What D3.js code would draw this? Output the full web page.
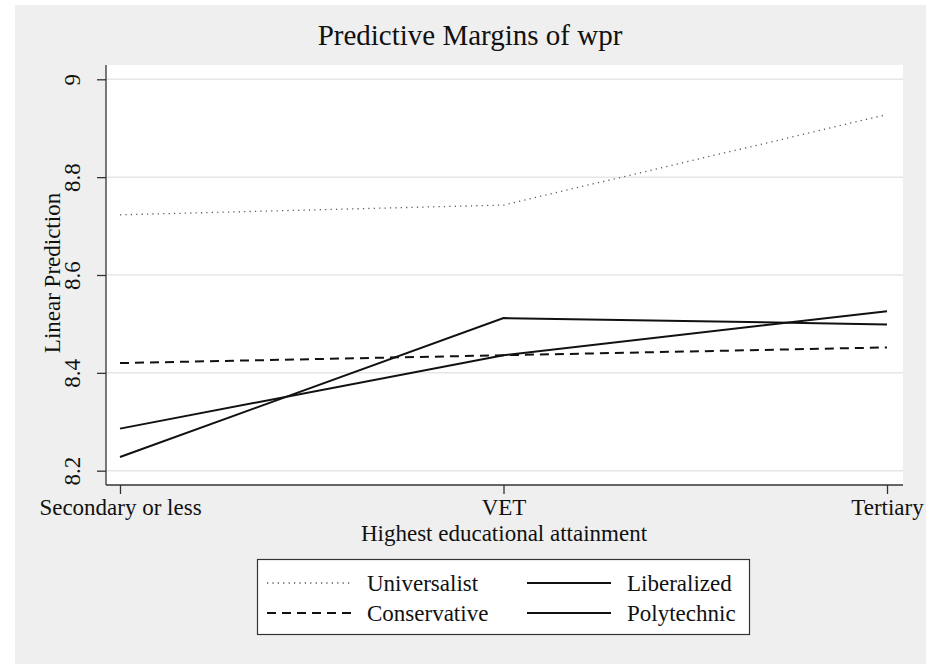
<!DOCTYPE html>
<html>
<head>
<meta charset="utf-8">
<script src="https://cdn.jsdelivr.net/npm/d3@7"></script>
<style>
  html, body { margin: 0; padding: 0; background: #ffffff; }
  svg { display: block; }
  text { font-family: "Liberation Serif", "Times New Roman", serif; fill: #111; }
</style>
</head>
<body>
<svg id="chart" width="941" height="664"></svg>
<script>
// Education levels on the x axis
const categories = ["Secondary or less", "VET", "Tertiary"];

// Predictive margins of wpr by welfare regime
const universalist = [8.723, 8.743, 8.928];
const liberalized  = [8.228, 8.512, 8.499];
const conservative = [8.420, 8.436, 8.452];
const polytechnic  = [8.286, 8.436, 8.526];

const yTicks = [8.2, 8.4, 8.6, 8.8, 9];

const series = [
  { name: "Universalist", values: universalist, style: "dot" },
  { name: "Liberalized",  values: liberalized,  style: "solid" },
  { name: "Conservative", values: conservative, style: "dash" },
  { name: "Polytechnic",  values: polytechnic,  style: "solid" }
];

const styles = {
  dot:   { stroke: "#555", width: 1.3, dash: "1.2,4.2" },
  dash:  { stroke: "#111", width: 2,   dash: "9,6" },
  solid: { stroke: "#111", width: 2,   dash: null }
};

const labelSize = "23px";

const svg = d3.select("#chart");

// outer graph background
svg.append("rect")
  .attr("x", 15).attr("y", 5).attr("width", 911).attr("height", 659)
  .attr("fill", "#efefef");

const plot = { left: 106, right: 903, top: 65, bottom: 485 };

// plot region
svg.append("rect")
  .attr("x", plot.left).attr("y", plot.top)
  .attr("width", plot.right - plot.left).attr("height", plot.bottom - plot.top)
  .attr("fill", "#ffffff");

const x = d3.scalePoint().domain(categories).range([120, 887]);
const y = d3.scaleLinear().domain([8.2, 9]).range([470.7, 79.3]);

// horizontal grid
svg.append("g")
  .selectAll("line")
  .data(yTicks)
  .join("line")
  .attr("x1", plot.left).attr("x2", plot.right)
  .attr("y1", d => y(d)).attr("y2", d => y(d))
  .attr("stroke", "#e6e6e6").attr("stroke-width", 1.5);

// y axis
const yAxis = svg.append("g")
  .attr("transform", `translate(${plot.left},0)`)
  .call(d3.axisLeft(y).tickValues(yTicks).tickFormat(d3.format("")).tickSize(9).tickSizeOuter(0));
yAxis.select(".domain").attr("d", `M0,${plot.top}V${plot.bottom}`).attr("stroke", "#333").attr("stroke-width", 1.3);
yAxis.selectAll(".tick line").attr("stroke", "#333").attr("stroke-width", 1.3);
yAxis.selectAll(".tick text")
  .attr("x", null).attr("dy", null)
  .attr("transform", "translate(-26,0) rotate(-90)")
  .attr("text-anchor", "middle")
  .style("font-size", labelSize)
  .style("font-family", "'Liberation Serif', serif")
  .attr("fill", "#111");

// x axis
const xAxis = svg.append("g")
  .attr("transform", `translate(0,${plot.bottom})`)
  .call(d3.axisBottom(x).tickSize(9).tickSizeOuter(0));
xAxis.select(".domain").attr("d", `M${plot.left},0H${plot.right}`).attr("stroke", "#333").attr("stroke-width", 1.3);
xAxis.selectAll(".tick line").attr("stroke", "#333").attr("stroke-width", 1.3);
xAxis.selectAll(".tick text")
  .attr("y", 30).attr("dy", null)
  .style("font-size", labelSize)
  .style("font-family", "'Liberation Serif', serif")
  .attr("fill", "#111");

// series lines
const line = d3.line()
  .x((d, i) => x(categories[i]))
  .y(d => y(d));

svg.append("g")
  .selectAll("path")
  .data(series)
  .join("path")
  .attr("d", d => line(d.values))
  .attr("fill", "none")
  .attr("stroke", d => styles[d.style].stroke)
  .attr("stroke-width", d => styles[d.style].width)
  .attr("stroke-dasharray", d => styles[d.style].dash);

// titles
svg.append("text")
  .attr("x", 470).attr("y", 45)
  .attr("text-anchor", "middle")
  .style("font-size", "29px")
  .text("Predictive Margins of wpr");

svg.append("text")
  .attr("transform", "translate(60,273) rotate(-90)")
  .attr("text-anchor", "middle")
  .style("font-size", labelSize)
  .text("Linear Prediction");

svg.append("text")
  .attr("x", 504).attr("y", 541)
  .attr("text-anchor", "middle")
  .style("font-size", labelSize)
  .text("Highest educational attainment");

// legend
const legend = svg.append("g");
legend.append("rect")
  .attr("x", 257.5).attr("y", 559.5).attr("width", 492).attr("height", 75)
  .attr("fill", "#ffffff").attr("stroke", "#333").attr("stroke-width", 1.2);

const legendCols = [267, 527];
const legendRows = [583, 613];
const legendItems = series.map((s, i) => ({
  ...s,
  cx: legendCols[i % 2],
  cy: legendRows[Math.floor(i / 2)]
}));

legend.selectAll("line.key")
  .data(legendItems)
  .join("line")
  .attr("class", "key")
  .attr("x1", d => d.cx).attr("x2", d => d.cx + 84)
  .attr("y1", d => d.cy).attr("y2", d => d.cy)
  .attr("stroke", d => styles[d.style].stroke)
  .attr("stroke-width", d => styles[d.style].width)
  .attr("stroke-dasharray", d => styles[d.style].dash);

legend.selectAll("text")
  .data(legendItems)
  .join("text")
  .attr("x", d => d.cx + 100).attr("y", d => d.cy + 8)
  .style("font-size", labelSize)
  .text(d => d.name);
</script>
</body>
</html>
